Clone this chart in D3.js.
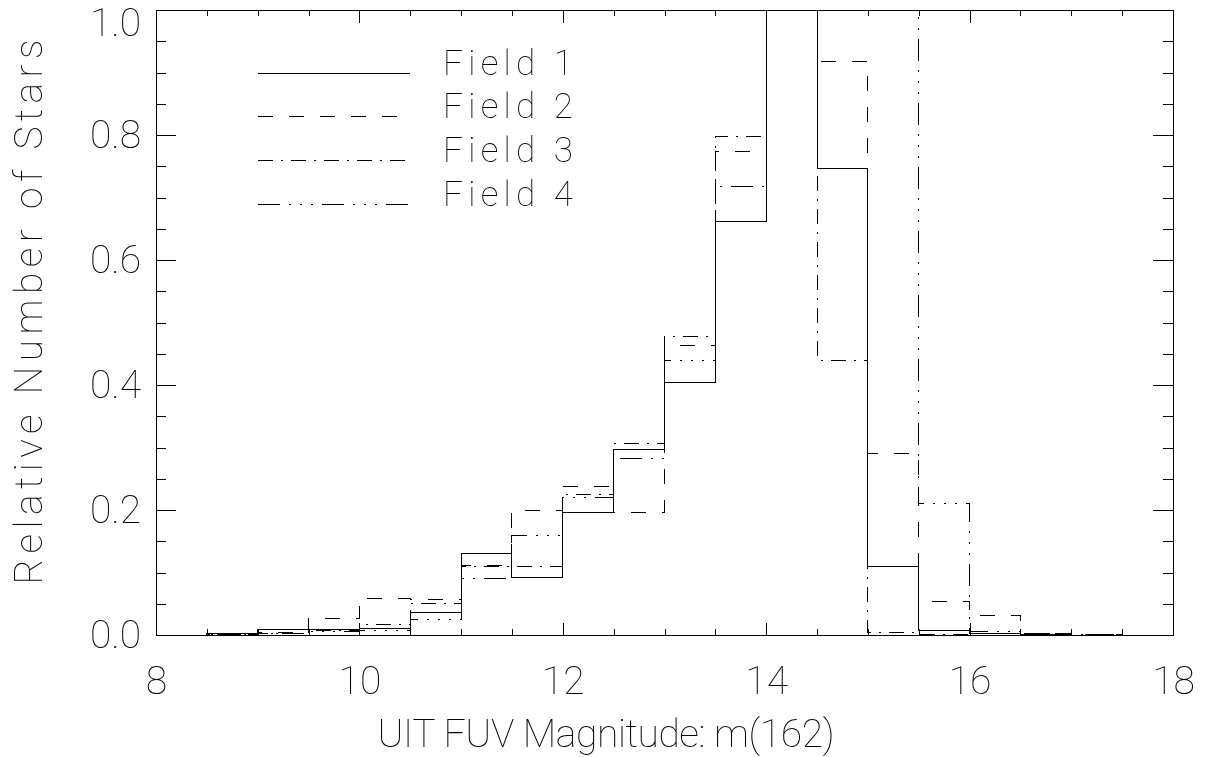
<!DOCTYPE html>
<html>
<head>
<meta charset="utf-8">
<script src="https://cdn.jsdelivr.net/npm/d3@7"></script>
<style>
  body { margin: 0; background: #fff; }
  svg { display: block; will-change: transform; }
  text { font-family: Roboto, "DejaVu Sans", sans-serif; font-weight: 100; fill: #000; fill-opacity: 0.99; }
  .tick-label text { font-size: 39px; }
  .axis-title { font-size: 39px; }
  .legend text { font-size: 35px; }
</style>
</head>
<body>
<svg id="chart"></svg>
<script>
// histogram bins (magnitude), left edges, 0.5 mag wide
const binStarts = [8.0, 8.5, 9.0, 9.5, 10.0, 10.5, 11.0, 11.5, 12.0, 12.5,
                   13.0, 13.5, 14.0, 14.5, 15.0, 15.5, 16.0, 16.5, 17.0, 17.5];
const binEnd = 18;

// relative number of stars per bin
const field1 = [0.000, 0.002, 0.009, 0.009, 0.010, 0.036, 0.131, 0.092, 0.196, 0.297,
                0.404, 0.661, 1.000, 0.747, 0.109, 0.008, 0.002, 0.001, 0.000, 0.000];
const field2 = [0.000, 0.001, 0.004, 0.027, 0.059, 0.057, 0.112, 0.200, 0.237, 0.196,
                0.464, 0.774, 1.000, 0.918, 0.290, 0.054, 0.031, 0.003, 0.001, 0.000];
const field3 = [0.000, 0.001, 0.003, 0.008, 0.017, 0.051, 0.109, 0.109, 0.225, 0.307,
                0.477, 0.798, 1.000, 0.440, 0.004, 0.001, 0.000, 0.000, 0.000, 0.000];
// field 4 runs off the top of the plot between 14.5 and 15.5
const field4 = [0.000, 0.001, 0.003, 0.006, 0.008, 0.025, 0.090, 0.159, 0.220, 0.282,
                0.440, 0.718, 1.000, 1.200, 1.300, 0.210, 0.005, 0.002, 0.001, 0.000];

const fieldNames = ["Field 1", "Field 2", "Field 3", "Field 4"];
const xTickValues = [8, 10, 12, 14, 16, 18];
const yTickValues = [0, 0.2, 0.4, 0.6, 0.8, 1.0];

const W = 1207, H = 757;
const plot = {left: 156, right: 1173, top: 10, bottom: 635};

// IDL linestyles 0, 2, 3, 4
const dashes = [null, "15,16", "15,8,2,8", "22,9,2,9,2,9,2,9"];

const svg = d3.select("#chart").attr("width", W).attr("height", H);

const x = d3.scaleLinear().domain([8, 18]).range([plot.left, plot.right]);
const y = d3.scaleLinear().domain([0, 1]).range([plot.bottom, plot.top]);

svg.append("defs").append("clipPath").attr("id", "plotclip")
  .append("rect")
    .attr("x", plot.left).attr("y", plot.top)
    .attr("width", plot.right - plot.left).attr("height", plot.bottom - plot.top);

// histograms
const series = [field1, field2, field3, field4];
const step = d3.line().x(d => x(d[0])).y(d => y(d[1])).curve(d3.curveStepAfter);

const hist = svg.append("g").attr("clip-path", "url(#plotclip)");
series.forEach((vals, i) => {
  const pts = binStarts.map((b, j) => [b, vals[j]]).concat([[binEnd, vals[vals.length - 1]]]);
  hist.append("path")
    .attr("d", step(pts))
    .attr("fill", "none")
    .attr("stroke", "#000")
    .attr("stroke-width", 1)
    .attr("stroke-dasharray", dashes[i])
    .attr("shape-rendering", "crispEdges");
});

// frame
svg.append("rect")
  .attr("x", plot.left).attr("y", plot.top)
  .attr("width", plot.right - plot.left).attr("height", plot.bottom - plot.top)
  .attr("fill", "none").attr("stroke", "#000").attr("shape-rendering", "crispEdges");

// inward ticks on all four sides
const xMinor = x.ticks(20).filter(v => !xTickValues.includes(v));
const yMinor = y.ticks(20).filter(v => !yTickValues.some(t => Math.abs(t - v) < 1e-9));

function ticks(axis, values, len, tx, ty) {
  const g = svg.append("g")
    .attr("transform", `translate(${tx},${ty})`)
    .attr("shape-rendering", "crispEdges")
    .call(axis.tickValues(values).tickSize(-len).tickSizeOuter(0).tickFormat(""));
  g.select(".domain").remove();
}
ticks(d3.axisBottom(x), xTickValues, 12.5, 0, plot.bottom);
ticks(d3.axisBottom(x), xMinor, 6, 0, plot.bottom);
ticks(d3.axisTop(x), xTickValues, 12.5, 0, plot.top);
ticks(d3.axisTop(x), xMinor, 6, 0, plot.top);
ticks(d3.axisLeft(y), yTickValues, 20, plot.left, 0);
ticks(d3.axisLeft(y), yMinor, 10, plot.left, 0);
ticks(d3.axisRight(y), yTickValues, 20, plot.right, 0);
ticks(d3.axisRight(y), yMinor, 10, plot.right, 0);

// tick labels
const xl = svg.append("g").attr("class", "tick-label")
  .attr("transform", `translate(0,${plot.bottom})`)
  .call(d3.axisBottom(x).tickValues(xTickValues).tickSize(0).tickPadding(31).tickFormat(d3.format("d")));
xl.select(".domain").remove();

const yl = svg.append("g").attr("class", "tick-label")
  .attr("transform", `translate(${plot.left},0)`)
  .call(d3.axisLeft(y).tickValues(yTickValues).tickSize(0).tickPadding(15).tickFormat(d3.format(".1f")));
yl.select(".domain").remove();
// keep the top label inside the page, as IDL did
yl.selectAll(".tick text").filter(d => y(d) < 23).attr("y", d => 23 - y(d));

// axis titles
svg.append("text").attr("class", "axis-title")
  .attr("x", 606).attr("y", 747)
  .attr("text-anchor", "middle")
  .attr("textLength", 457).attr("lengthAdjust", "spacing")
  .text("UIT FUV Magnitude: m(162)");

svg.append("text").attr("class", "axis-title")
  .attr("transform", "translate(42,312) rotate(-90)")
  .attr("text-anchor", "middle")
  .attr("textLength", 545).attr("lengthAdjust", "spacing")
  .text("Relative Number of Stars");

// legend
const legend = svg.append("g").attr("class", "legend");
const legendY = d3.scaleLinear().domain([0, 3]).range([72.5, 203.5]);
fieldNames.forEach((name, i) => {
  const ly = Math.round(legendY(i)) + 0.5;
  legend.append("line")
    .attr("x1", 258).attr("x2", 410).attr("y1", ly).attr("y2", ly)
    .attr("stroke", "#000").attr("stroke-dasharray", dashes[i])
    .attr("shape-rendering", "crispEdges");
  legend.append("text")
    .attr("x", 443).attr("y", ly + 1)
    .attr("textLength", 130).attr("lengthAdjust", "spacing")
    .text(name);
});
</script>
</body>
</html>
